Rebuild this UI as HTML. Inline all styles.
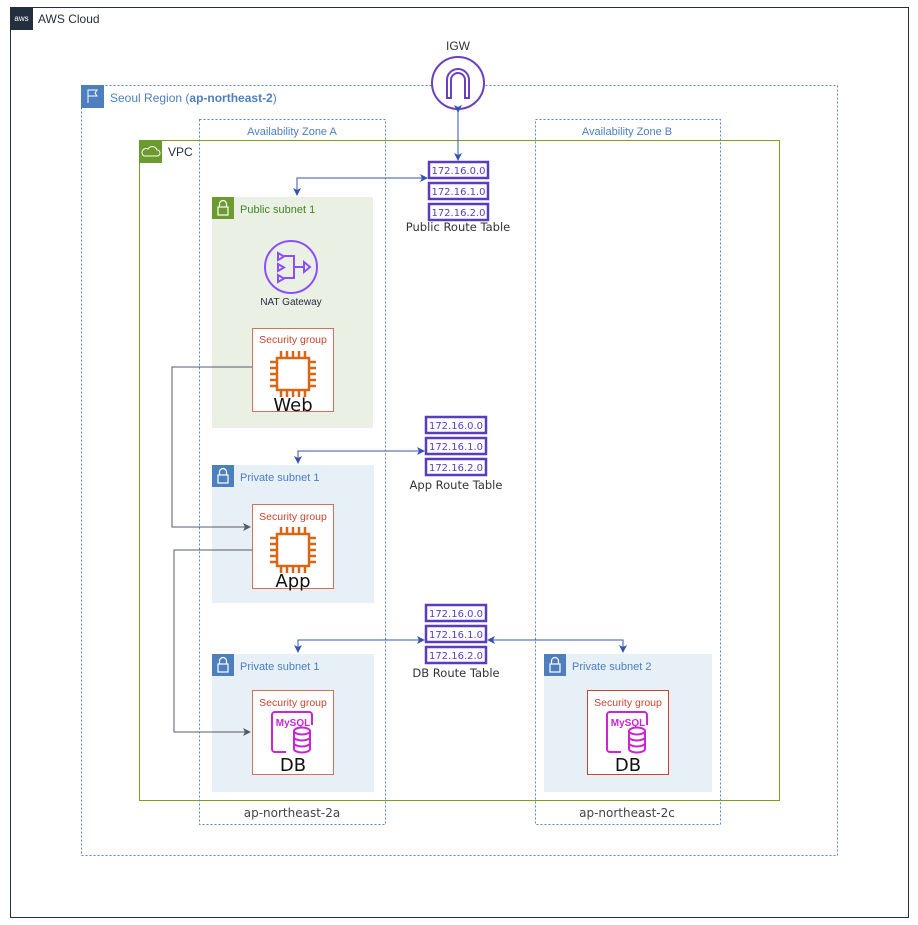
<!DOCTYPE html>
<html><head><meta charset="utf-8"><style>
html,body{margin:0;padding:0;background:#fff;}
svg{display:block;font-family:"Liberation Sans",sans-serif;}
.dv{font-family:"DejaVu Sans",sans-serif;}
</style></head><body>
<svg width="918" height="925" viewBox="0 0 918 925" xmlns="http://www.w3.org/2000/svg">
<defs>
<marker id="ab" markerWidth="8" markerHeight="8" refX="7" refY="4" orient="auto" markerUnits="userSpaceOnUse"><path d="M0,0 L8,4 L0,8 L2,4 Z" fill="#3453b0"/></marker>
<marker id="ag" markerWidth="8" markerHeight="8" refX="7" refY="4" orient="auto" markerUnits="userSpaceOnUse"><path d="M0,0 L8,4 L0,8 L2,4 Z" fill="#545b64"/></marker>
<g id="chip" fill="none" stroke="#d86613" stroke-width="2.5">
<rect x="-16" y="-16" width="32" height="32" fill="#fff"/>
<path d="M-12,-16v-7M-6,-16v-7M0,-16v-7M6,-16v-7M12,-16v-7M-12,16v7M-6,16v7M0,16v7M6,16v7M12,16v7M-16,-12h-7M-16,-6h-7M-16,0h-7M-16,6h-7M-16,12h-7M16,-12h7M16,-6h7M16,0h7M16,6h7M16,12h7"/>
</g>
<g id="mysql">
<path d="M-18,-20 h34 a3,3 0 0 1 3,3 v10 M-7,20 h-11 a3,3 0 0 1 -3,-3 v-34 a3,3 0 0 1 3,-3" fill="none" stroke="#c925d1" stroke-width="2"/>
<text x="0" y="-6" font-size="10" font-weight="bold" fill="#c925d1" text-anchor="middle">MySQL</text>
<ellipse cx="9" cy="-1" rx="8" ry="3.5" fill="#fff" stroke="#c925d1" stroke-width="2"/>
<path d="M1,-1v18a8,3.5 0 0 0 16,0v-18M1,5a8,3.5 0 0 0 16,0M1,11a8,3.5 0 0 0 16,0" fill="none" stroke="#c925d1" stroke-width="2"/>
</g>
<g id="lock"><path d="M-3.5,-1v-3a3.5,3.5 0 0 1 7,0v3" fill="none" stroke="#fff" stroke-width="1.2"/><rect x="-5" y="-1" width="10" height="8" fill="none" stroke="#fff" stroke-width="1.2"/></g>
</defs>

<rect x="10.5" y="7.5" width="898" height="910" fill="none" stroke="#232f3e" stroke-width="1"/>
<rect x="10" y="7" width="23" height="23" fill="#232f3e"/>
<text x="21.5" y="21" font-size="8" fill="#fff" text-anchor="middle">aws</text>
<text x="38" y="23" font-size="12" fill="#232f3e">AWS Cloud</text>

<rect x="81.5" y="85.5" width="756" height="770" fill="none" stroke="#5a86c5" stroke-dasharray="2,2"/>
<rect x="81" y="85" width="23" height="23" fill="#4d7fbf"/>
<path d="M88,103V90h9l-2,3 2,3h-9" fill="none" stroke="#fff" stroke-width="1"/>
<text x="110" y="102" font-size="12" fill="#4d7fbf">Seoul Region (<tspan font-weight="bold">ap-northeast-2</tspan>)</text>

<rect x="139.5" y="140.5" width="640" height="660" fill="none" stroke="#7aa116" stroke-width="1"/>
<rect x="139" y="140" width="23" height="23" fill="#6b9a2f"/>
<path d="M144,156h13a3,3 0 0 0 0,-6a5,5 0 0 0 -9,-1a3.5,3.5 0 0 0 -4,7z" fill="none" stroke="#fff" stroke-width="1"/>
<text x="168" y="156" font-size="12" fill="#232f3e">VPC</text>

<rect x="199.5" y="119.5" width="186" height="705" fill="none" stroke="#5a86c5" stroke-dasharray="2,2"/>
<text x="292" y="135" font-size="11" fill="#4d7fbf" text-anchor="middle">Availability Zone A</text>
<text x="292" y="817" font-size="12" fill="#444" text-anchor="middle" class="dv">ap-northeast-2a</text>
<rect x="535.5" y="119.5" width="185" height="705" fill="none" stroke="#5a86c5" stroke-dasharray="2,2"/>
<text x="627" y="135" font-size="11" fill="#4d7fbf" text-anchor="middle">Availability Zone B</text>
<text x="627" y="817" font-size="12" fill="#444" text-anchor="middle" class="dv">ap-northeast-2c</text>

<text x="458" y="50" font-size="12" fill="#333" text-anchor="middle">IGW</text>
<circle cx="458" cy="83" r="26" fill="#fff" stroke="#6a3fc1" stroke-width="2"/>
<path d="M447,98V80a11,11 0 0 1 22,0v18h-4V80a7,7 0 0 0 -14,0v18z" fill="none" stroke="#6a3fc1" stroke-width="2"/>
<line x1="458" y1="112" x2="458" y2="160" stroke="#3453b0" marker-start="url(#ab)" marker-end="url(#ab)"/>

<rect x="212" y="197" width="161" height="231" fill="#ebf0e4"/>
<rect x="212" y="197" width="22" height="22" fill="#6b9a2f"/>
<use href="#lock" x="223" y="208"/>
<text x="240" y="213" font-size="11" fill="#3f8624">Public subnet 1</text>
<circle cx="291" cy="267" r="26" fill="none" stroke="#8c4fff" stroke-width="2"/>
<g fill="none" stroke="#8c4fff" stroke-width="2"><path d="M278,253l6,3.5-6,3.5zM278,264l6,3.5-6,3.5zM278,275l6,3.5-6,3.5zM284,256h10v22h-10M294,267h10M304,262l6,5-6,5z"/></g>
<text x="291" y="305" font-size="10" fill="#232f3e" text-anchor="middle">NAT Gateway</text>
<rect x="252.5" y="328.5" width="81" height="83" fill="#fff" stroke="#d66e5c"/>
<text x="293" y="343" font-size="10.5" fill="#c7442f" text-anchor="middle">Security group</text>
<use href="#chip" x="293" y="374"/>
<text x="293" y="411" font-size="18" fill="#111" text-anchor="middle" class="dv">Web</text>

<g fill="none" stroke="#5a3cc0" stroke-width="2.5"><rect x="429" y="162" width="59" height="16"/><rect x="429" y="183" width="59" height="16"/><rect x="429" y="204" width="59" height="16"/></g>
<g font-size="10" fill="#5a3cc0" text-anchor="middle" class="dv"><text x="458.5" y="174">172.16.0.0</text><text x="458.5" y="195">172.16.1.0</text><text x="458.5" y="216">172.16.2.0</text></g>
<text x="458" y="231" font-size="11.5" fill="#333" text-anchor="middle" class="dv">Public Route Table</text>

<g fill="none" stroke="#5a3cc0" stroke-width="2.5"><rect x="426" y="417" width="60" height="16"/><rect x="426" y="438" width="60" height="16"/><rect x="426" y="459" width="60" height="16"/></g>
<g font-size="10" fill="#5a3cc0" text-anchor="middle" class="dv"><text x="456" y="429">172.16.0.0</text><text x="456" y="450">172.16.1.0</text><text x="456" y="471">172.16.2.0</text></g>
<text x="456" y="489" font-size="11.5" fill="#333" text-anchor="middle" class="dv">App Route Table</text>

<rect x="212" y="465" width="162" height="138" fill="#e7eff7"/>
<rect x="212" y="465" width="22" height="22" fill="#4d7fbf"/>
<use href="#lock" x="223" y="476"/>
<text x="240" y="481" font-size="11" fill="#4d7fbf">Private subnet 1</text>
<rect x="252.5" y="504.5" width="81" height="84" fill="#fff" stroke="#d66e5c"/>
<text x="293" y="520" font-size="10.5" fill="#c7442f" text-anchor="middle">Security group</text>
<use href="#chip" x="293" y="550"/>
<text x="293" y="587" font-size="18" fill="#111" text-anchor="middle" class="dv">App</text>

<g fill="none" stroke="#5a3cc0" stroke-width="2.5"><rect x="426" y="605" width="60" height="16"/><rect x="426" y="626" width="60" height="16"/><rect x="426" y="647" width="60" height="16"/></g>
<g font-size="10" fill="#5a3cc0" text-anchor="middle" class="dv"><text x="456" y="617">172.16.0.0</text><text x="456" y="638">172.16.1.0</text><text x="456" y="659">172.16.2.0</text></g>
<text x="456" y="677" font-size="11.5" fill="#333" text-anchor="middle" class="dv">DB Route Table</text>

<rect x="212" y="654" width="162" height="138" fill="#e7eff7"/>
<rect x="212" y="654" width="22" height="22" fill="#4d7fbf"/>
<use href="#lock" x="223" y="665"/>
<text x="240" y="670" font-size="11" fill="#4d7fbf">Private subnet 1</text>
<rect x="252.5" y="690.5" width="81" height="84" fill="#fff" stroke="#d66e5c"/>
<text x="293" y="706" font-size="10.5" fill="#c7442f" text-anchor="middle">Security group</text>
<use href="#mysql" x="293" y="732"/>
<text x="293" y="771" font-size="18" fill="#111" text-anchor="middle" class="dv">DB</text>

<rect x="544" y="654" width="168" height="138" fill="#e7eff7"/>
<rect x="544" y="654" width="22" height="22" fill="#4d7fbf"/>
<use href="#lock" x="555" y="665"/>
<text x="572" y="670" font-size="11" fill="#4d7fbf">Private subnet 2</text>
<rect x="587.5" y="690.5" width="81" height="84" fill="#fff" stroke="#c7442f"/>
<text x="628" y="706" font-size="10.5" fill="#c7442f" text-anchor="middle">Security group</text>
<use href="#mysql" x="628" y="732"/>
<text x="628" y="771" font-size="18" fill="#111" text-anchor="middle" class="dv">DB</text>

<path d="M427,178H297V195" fill="none" stroke="#3453b0" marker-end="url(#ab)"/>
<path d="M297,178H427" fill="none" stroke="#3453b0" marker-end="url(#ab)"/>
<path d="M424,451H298V463" fill="none" stroke="#3453b0" marker-end="url(#ab)"/>
<path d="M298,451H424" fill="none" stroke="#3453b0" marker-end="url(#ab)"/>
<path d="M424,640H298V652" fill="none" stroke="#3453b0" marker-end="url(#ab)"/>
<path d="M298,640H424" fill="none" stroke="#3453b0" marker-end="url(#ab)"/>
<path d="M488,640H623V652" fill="none" stroke="#3453b0" marker-end="url(#ab)"/>
<path d="M623,640H488" fill="none" stroke="#3453b0" marker-end="url(#ab)"/>
<path d="M252,367H172V527H250" fill="none" stroke="#545b64" marker-end="url(#ag)"/>
<path d="M252,550H174V732H250" fill="none" stroke="#545b64" marker-end="url(#ag)"/>
</svg>
</body></html>
